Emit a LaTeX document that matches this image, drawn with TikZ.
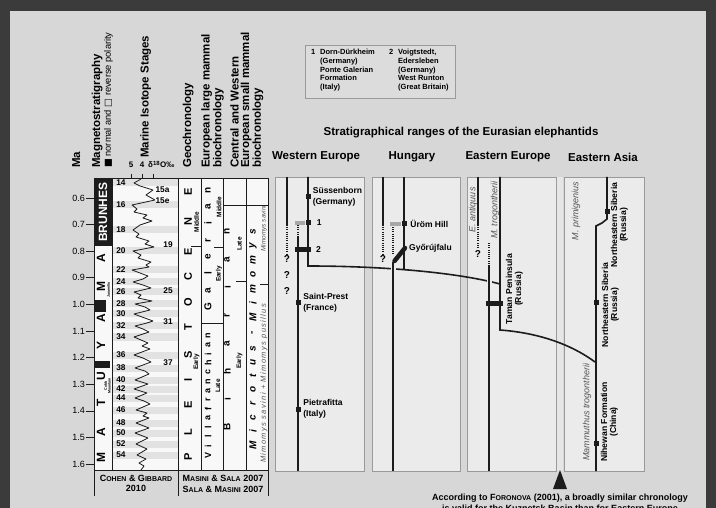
\documentclass[tikz,border=0pt]{standalone}
\usepackage{fontspec}
\setmainfont{Liberation Sans}
\newfontfamily\symfont{DejaVu Sans}
\usetikzlibrary{positioning}

\definecolor{frame}{HTML}{3B3B3B}
\definecolor{paper}{HTML}{D7D7D7}
\definecolor{panel}{HTML}{EBEBEB}
\definecolor{rim}{HTML}{9A9A9A}
\definecolor{ink}{HTML}{1C1C1C}
\definecolor{bar}{HTML}{A8A8A8}
\definecolor{stripe}{HTML}{E2E2E2}
\definecolor{sheet}{HTML}{F8F8F8}
\definecolor{taxon}{HTML}{555555}
\definecolor{gap}{HTML}{E6E6E6}
\definecolor{legfill}{HTML}{DCDCDC}

\newcommand\fsz[2]{\fontsize{#1}{#2}\selectfont}
\newcommand\fsc[1]{{\fontsize{7}{8}\selectfont #1}}

\tikzset{
  chart/.style={line width=0.6pt, draw=ink},
  rng/.style={line width=1.6pt, draw=ink},
  rngdot/.style={line width=1.3pt, draw=ink, dash pattern=on 1.1pt off 1.1pt},
  halo/.style={line width=5pt, draw=panel},
  sq/.style={fill=ink, minimum size=5pt, inner sep=0pt},
  hdr/.style={font=\fsz{11.5}{10.5}\bfseries, rotate=90, anchor=north west, inner sep=0pt, align=left},
  malab/.style={font=\fsz{9}{10}, anchor=east, inner sep=0pt},
  mis/.style={font=\fsz{8.3}{9}\bfseries, inner sep=0pt},
  bigl/.style={font=\fsz{11}{12}\bfseries, rotate=90, inner sep=0pt},
  midl/.style={font=\fsz{10}{11}\bfseries, rotate=90, inner sep=0pt},
  subl/.style={font=\fsz{6.5}{7}\bfseries, rotate=90, inner sep=0pt},
  subchron/.style={font=\fsz{3.6}{3.8}\bfseries, rotate=90, inner sep=0pt, align=center},
  panelbox/.style={draw=rim, line width=0.9pt, fill=panel, anchor=north west, inner sep=0pt, outer sep=0pt, minimum height=294pt},
  head/.style={font=\fsz{11.5}{12}\bfseries, inner sep=0pt},
  site/.style={font=\fsz{8.5}{11}\bfseries, inner sep=0pt, align=left},
  rsite/.style={font=\fsz{8.6}{9}\bfseries, inner sep=0pt, align=center, rotate=90},
  taxa/.style={font=\fsz{9}{10}\itshape, text=taxon, inner sep=0pt, rotate=90},
  qm/.style={font=\fsz{10}{11}\bfseries, inner sep=0pt},
  leg/.style={font=\fsz{7.5}{8.7}\bfseries, inner sep=0pt, align=left, anchor=north west},
  cite/.style={font=\fsz{9}{10}\bfseries, inner sep=0pt},
  note/.style={font=\fsz{9}{10}\bfseries, inner sep=0pt}
}

\begin{document}
\begin{tikzpicture}[x=1pt,y=-1pt]
\clip (0,0) rectangle (716,508);
\fill[frame] (0,0) rectangle (716,508);
\fill[paper] (10,11) rectangle (706,508);

% left chart
\fill[sheet] (94,178) rectangle (268,470);
\foreach \y in {183,205,230,251,270,282,292,304,314,326,337,355,368,380,389,398,410,423,433,444,455}
  \fill[stripe] (112,{\y-3.5}) rectangle (178,{\y+3.5});
\fill[ink] (94,178) rectangle (112,246);
\fill[ink] (94,300) rectangle (106,312);
\fill[ink] (94,361) rectangle (110,368);
\node[bigl, text=white, font=\fsz{12}{12}\bfseries] (brunhes) at (103,212) {BRUNHES};
\foreach \l/\y [count=\i] in {A/258,M/287,A/318,Y/345,U/376,T/403,A/432,M/458}
  \node[bigl, font=\fsz{12}{12}\bfseries] (mat\i) at (101,\y) {\l};
\node[subchron] (jar) at (108.5,290) {Jaramillo};
\node[subchron] (cobb) at (107.5,386) {Cobb\\Mountain};

\foreach \lab [count=\i from 0] in {0.6,0.7,0.8,0.9,1.0,1.1,1.2,1.3,1.4,1.5,1.6}{
  \node[malab] (ma\i) at (85,{198+26.6*\i}) {\lab};
  \draw[chart, shorten <=1pt] (ma\i.east) -- (94,{198+26.6*\i});
}

\draw[line width=0.8pt, ink, line join=round] plot coordinates {
  (141,179) (134,183) (140,186) (153,190) (146,195) (155,200) (132,205) (137,209)
  (134,212) (147,215) (143,218) (152,221) (140,225) (133,230) (139,234) (136,237)
  (149,241) (145,244) (154,247) (133,251) (141,255) (138,258) (151,262) (146,265)
  (149,267) (132,270) (140,273) (148,276) (143,279) (133,282) (143,285) (151,288)
  (134,292) (141,295) (138,298) (152,301) (135,304) (145,307) (150,310) (134,314)
  (142,317) (153,321) (147,323) (135,326) (143,329) (149,332) (134,337) (141,340)
  (148,343) (142,346) (150,349) (134,355) (143,358) (151,362) (135,368) (145,371)
  (149,374) (135,380) (148,384) (134,389) (147,393) (135,398) (144,401) (150,404)
  (136,410) (147,413) (143,416) (149,418) (136,423) (149,428) (135,433) (148,438)
  (136,444) (147,449) (137,455) (146,459) (139,463) (144,466) (141,470)};
\foreach \n/\y in {14/183,16/205,18/230,20/251,22/270,24/282,26/292,28/304,30/314,32/326,34/337,36/355,38/368,40/380,42/389,44/398,46/410,48/423,50/433,52/444,54/455}
  \node[mis] (mis\n) at (121,\y) {\n};
\foreach \n/\x/\y in {15a/162.5/190,15e/162.5/201,19/168/245,25/168/291,31/168/322,37/168/363}
  \node[mis] (mis\n) at (\x,\y) {\n};

\foreach \l/\y [count=\i] in {P/457,L/432,E/405,I/380,S/355,T/327,O/302,C/277,E/252,N/222,E/192}
  \node[bigl] (ple\i) at (188,\y) {\l};
\node[subl] (gmid) at (196.5,222) {Middle};
\node[subl] (gear) at (196.5,362) {Early};
\foreach \l [count=\i] in {G,a,l,e,r,i,a,n}
  \node[midl] (gal\i) at (208,{307-(\i-1)*16.7}) {\l};
\foreach \l [count=\i] in {V,i,l,l,a,f,r,a,n,c,h,i,a,n}
  \node[midl, font=\fsz{9}{10}\bfseries] (vil\i) at (208,{455-(\i-1)*9.2}) {\l};
\node[subl] (lmid) at (219,207) {Middle};
\node[subl] (lear) at (219,274) {Early};
\node[subl] (llat) at (218,386) {Late};
\foreach \l [count=\i] in {B,i,h,a,r,i,a,n}
  \node[midl] (bih\i) at (227,{427-(\i-1)*27.9}) {\l};
\node[subl] (blat) at (239.5,244) {Late};
\node[subl] (bear) at (239.5,361) {Early};
\foreach \l [count=\i] in {M,i,c,r,o,t,u,s}
  \node[midl, font=\fsz{10}{11}\bfseries\itshape] (mic\i) at (253,{445-(\i-1)*13.8}) {\l};
\node[midl, font=\fsz{10}{11}\bfseries\itshape] (dash) at (253,333) {-};
\foreach \l [count=\i] in {M,i,m,o,m,y,s}
  \node[midl, font=\fsz{10}{11}\bfseries\itshape] (mim\i) at (253,{317-(\i-1)*14.2}) {\l};
\node[taxa, font=\fsz{7.5}{8}\itshape\addfontfeature{LetterSpace=18}, anchor=west] (msp) at (264,463) {Mimomys savini + Mimomys pusillus};
\node[taxa, font=\fsz{6.5}{7}\itshape, anchor=west] (msa) at (264,252) {Mimomys savini};

\draw[chart] (94,178) -- (268,178);
\draw[chart] (94,470) -- (268,470);
\draw[chart] (94,178) -- (94,496);
\draw[chart] (112,178) -- (112,470);
\draw[chart] (178,178) -- (178,496);
\draw[chart] (201,178) -- (201,470);
\draw[chart] (223,178) -- (223,470);
\draw[chart] (246,178) -- (246,470);
\draw[chart] (268,178) -- (268,496);
\draw[chart] (223,205) -- (268,205);
\draw[chart] (201,323) -- (223,323);
\draw[chart] (191,246) -- (201,246);
\draw[chart] (214,247) -- (223,247);
\draw[chart] (236,281) -- (246,281);
\draw[chart] (260,284) -- (268,284);
\foreach \x in {131,142,153}
  \draw[chart] (\x,174) -- (\x,178);

\node[cite] (coh) at (136,478.5) {C\fsc{OHEN} \& G\fsc{IBBARD}};
\node[cite] (coy) at (136,488.5) {2010};
\node[cite] (mas) at (223,478.5) {M\fsc{ASINI} \& S\fsc{ALA} 2007};
\node[cite] (sal) at (223,489) {S\fsc{ALA} \& M\fsc{ASINI} 2007};

% column heads
\node[hdr] (hma) at (72,168) {Ma};
\node[hdr] (hmag) at (91.5,168) {Magnetostratigraphy};
\node[hdr, font=\fsz{9.3}{10}] (hpol) at (104,168) {{\symfont■} normal and {\symfont□} reverse polarity};
\node[hdr] (hmis) at (140,158) {Marine Isotope Stages};
\node[font=\fsz{8}{9}\bfseries, inner sep=0pt, anchor=base] (d5) at (131,168) {5};
\node[font=\fsz{8}{9}\bfseries, inner sep=0pt, anchor=base] (d4) at (142,168) {4};
\node[font=\fsz{8}{9}\bfseries, inner sep=0pt, anchor=base west] (dO) at (148,168) {δ\textsuperscript{18}O‰};
\node[hdr] (hgeo) at (182.5,168) {Geochronology};
\node[hdr] (hlar) at (201,168) {European large mammal\\biochronology};
\node[hdr] (hsma) at (230,168) {Central and Western\\European small mammal\\biochronology};

% legend
\node[draw=rim, line width=0.9pt, fill=legfill, minimum width=150pt, minimum height=53pt, anchor=north west, inner sep=0pt] (legend) at (305,45) {};
\node[leg] (l1n) at (311,49) {1};
\node[leg] (l1) at (320,49) {Dorn-Dürkheim\\(Germany)\\Ponte Galerian\\Formation\\(Italy)};
\node[leg] (l2n) at (389,49) {2};
\node[leg] (l2) at (398,49) {Voigtstedt,\\Edersleben\\(Germany)\\West Runton\\(Great Britain)};

% ranges
\node[head] (title) at (461,133) {Stratigraphical ranges of the Eurasian elephantids};
\node[head] (weh) at (316,157) {Western Europe};
\node[head] (huh) at (412,157) {Hungary};
\node[head] (eeh) at (508,157) {Eastern Europe};
\node[head] (eah) at (603,157) {Eastern Asia};
\node[panelbox, minimum width=89pt] (we) at (275,177) {};
\node[panelbox, minimum width=88pt] (hu) at (372,177) {};
\node[panelbox, minimum width=89pt] (ee) at (467,177) {};
\node[panelbox, minimum width=80pt] (ea) at (564,177) {};
\fill[gap] (557,177.5) rectangle (563,470.5);

\draw[rng] (287,177) -- (287,225);
\draw[rngdot] (287,225) -- (287,254);
\node[qm] (q1) at (287,259.5) {?};
\node[qm] (q2) at (287,275.5) {?};
\node[qm] (q3) at (287,291.5) {?};
\draw[rngdot] (298,225) -- (298,237);
\draw[rng] (298,237) -- (298,471);
\draw[rng] (308,177) -- (308,266) .. controls (380,266) and (455,272) .. (500,284);
\fill[bar] (295,221) rectangle (305,225);
\fill[ink] (295,247.5) rectangle (311,252.5);
\coordinate (bar2) at (311,250);
\node[sq] (suss) at (308,197) {};
\node[sq] (sq1) at (308,223) {};
\node[sq] (stp) at (298,303) {};
\node[sq] (pie) at (298,409) {};
\node[site, right=2pt of suss] (sussl) {Süssenborn\\(Germany)};
\node[site, right=6pt of sq1] (sq1l) {1};
\node[site, right=5pt of bar2] (bar2l) {2};
\node[site, right=2.5pt of stp] (stpl) {Saint-Prest\\(France)};
\node[site, right=2.5pt of pie] (piel) {Pietrafitta\\(Italy)};

\draw[rng] (383,177) -- (383,225);
\draw[rngdot] (383,225) -- (383,254);
\node[qm] (q4) at (383,259.5) {?};
\draw[rngdot] (393,227) -- (393,255);
\draw[halo] (393,262) -- (393,276);
\draw[rng] (393,262) -- (393,471);
\draw[rng] (404,177) -- (404,269);
\fill[bar] (390,222) rectangle (401,226);
\node[sq] (urom) at (404,224) {};
\draw[line width=4.5pt, ink, line cap=round] (394.5,261) -- (405,248);
\coordinate (gyor) at (405,248);
\node[site, right=3.5pt of urom] (uroml) {Üröm Hill};
\node[site, right=4pt of gyor] (gyorl) {Győrújfalu};

\draw[rng] (478,177) -- (478,225);
\draw[rngdot] (478,225) -- (478,249);
\node[qm] (q5) at (478,254.5) {?};
\draw[rngdot] (489,243) -- (489,265);
\draw[halo] (489,275) -- (489,289);
\draw[rng] (489,265) -- (489,471);
\draw[rng] (500,177) -- (500,330) .. controls (540,333) and (572,345) .. (595,362);
\fill[ink] (486,301.5) rectangle (503,306.5);
\node[taxa] (eant) at (473,210) {E. antiquus};
\node[taxa] (mtro) at (495,210) {M. trogontherii};
\node[rsite] (taman) at (514.5,289) {Taman Peninsula\\(Russia)};

\draw[rng] (607,177) -- (607,219) -- (602,223) -- (596,226) -- (596,471);
\node[sq] (nes1) at (607,212) {};
\node[sq] (nes2) at (596,303) {};
\node[sq] (nih) at (596,443) {};
\node[taxa] (mpri) at (576,211) {M. primigenius};
\node[taxa] (mamt) at (587,412) {Mammuthus trogontherii};
\node[rsite] (nes1l) at (619.5,225) {Northeastern Siberia\\(Russia)};
\node[rsite] (nes2l) at (610.5,305) {Northeastern Siberia\\(Russia)};
\node[rsite] (nihl) at (609.5,422) {Nihewan Formation\\(China)};

\fill[ink] (560,470) -- (567,489) -- (553,489) -- cycle;
\node[note] (fn1) at (560,498) {According to F\fsc{ORONOVA} (2001), a broadly similar chronology};
\node[note] (fn2) at (560,509.5) {is valid for the Kuznetsk Basin than for Eastern Europe};
\end{tikzpicture}
\end{document}
